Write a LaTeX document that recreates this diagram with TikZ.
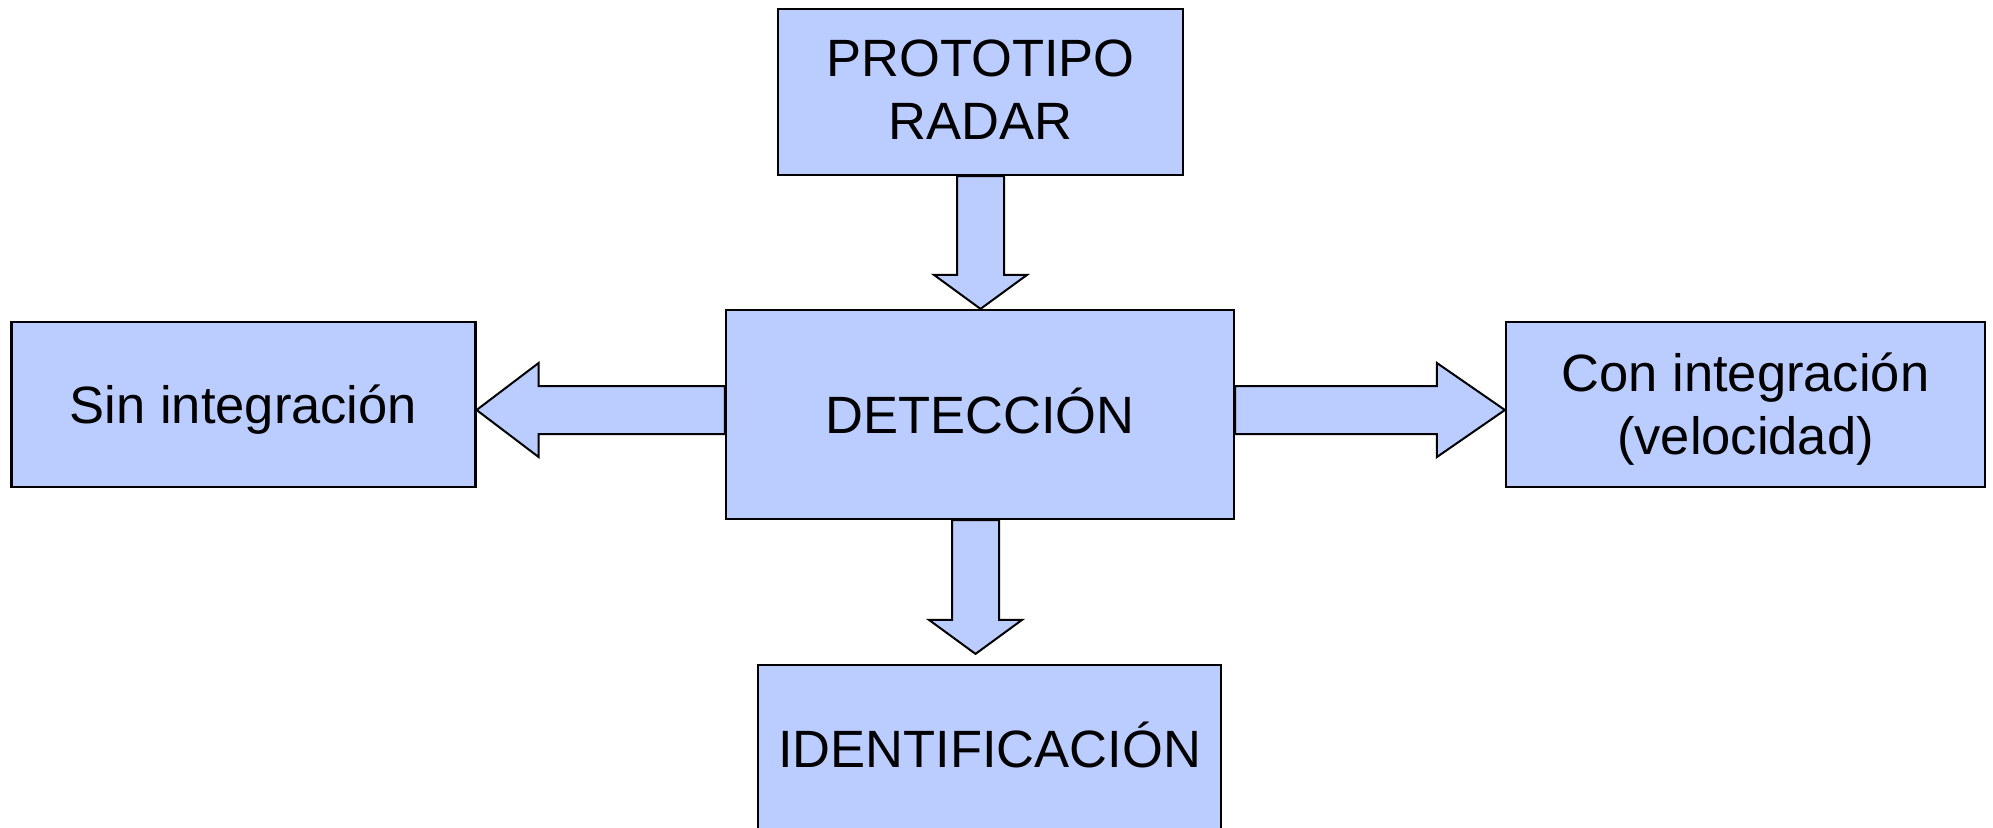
\documentclass[tikz,border=0pt]{standalone}
\usepackage{fontspec}
\setmainfont{Liberation Sans}
\usetikzlibrary{calc}
\definecolor{boxblue}{RGB}{187,204,255}
\newcommand{\twolines}[2]{\begin{tabular}[t]{@{}c@{}}#1\\#2\end{tabular}}
\tikzset{
  blk/.style={draw=black, line width=2.2pt, fill=boxblue, rectangle, inner sep=0pt,
    align=center, font=\fontsize{52.5}{63}\selectfont},
  oneline/.style={text height=37.6pt, text depth=0pt},
  twoline/.style={text height=#1, text depth=63pt}
}
\tikzset{barrow/.style={draw=black, line width=2pt, fill=boxblue, line join=miter}}
\begin{document}
\begin{tikzpicture}[x=1pt, y=-1pt]
\useasboundingbox (0,0) rectangle (1993,827);
\clip (0,0) rectangle (1993,827);
\node[blk, twoline=31.6pt, minimum width=405pt, minimum height=166pt] (proto) at (980.5,92) {\twolines{PROTOTIPO}{RADAR}};
\node[blk, oneline, minimum width=508pt, minimum height=209pt] (detect) at (980,414.5) {DETECCIÓN};
\node[blk, oneline, minimum width=464pt, minimum height=165pt] (sin) at (243.5,404.5) {Sin integración};
\node[blk, twoline=37.6pt, minimum width=479pt, minimum height=165pt] (con) at (1745.5,404.5) {\twolines{Con integración}{(velocidad)}};
\node[blk, oneline, minimum width=463pt, minimum height=168pt] (ident) at (989.5,749) {IDENTIFICACIÓN};
% down arrow: proto -> detect
\coordinate (t1) at (proto.south |- detect.north);
\draw[barrow] ($(proto.south)+(-23.5,0)$) -- ($(t1)+(-23.5,-34)$) -- ($(t1)+(-46.5,-34)$)
  -- (t1) -- ($(t1)+(46.5,-34)$) -- ($(t1)+(23.5,-34)$) -- ($(proto.south)+(23.5,0)$) -- cycle;
% left arrow: detect -> sin
\coordinate (t2) at ($(sin.east)+(0,5.5)$);
\draw[barrow] ($(detect.west |- t2)+(0,-24)$) -- ($(t2)+(62,-24)$) -- ($(t2)+(62,-47)$)
  -- (t2) -- ($(t2)+(62,47)$) -- ($(t2)+(62,24)$) -- ($(detect.west |- t2)+(0,24)$) -- cycle;
% right arrow: detect -> con
\coordinate (t3) at ($(con.west)+(0,5.5)$);
\draw[barrow] ($(detect.east |- t3)+(0,-24)$) -- ($(t3)+(-68,-24)$) -- ($(t3)+(-68,-47)$)
  -- (t3) -- ($(t3)+(-68,47)$) -- ($(t3)+(-68,24)$) -- ($(detect.east |- t3)+(0,24)$) -- cycle;
% down arrow: detect -> ident
\coordinate (t4) at ($(ident.north)+(-14,-10)$);
\draw[barrow] ($(detect.south -| t4)+(-23.5,0)$) -- ($(t4)+(-23.5,-34)$) -- ($(t4)+(-46.5,-34)$)
  -- (t4) -- ($(t4)+(46.5,-34)$) -- ($(t4)+(23.5,-34)$) -- ($(detect.south -| t4)+(23.5,0)$) -- cycle;
\end{tikzpicture}
\end{document}
